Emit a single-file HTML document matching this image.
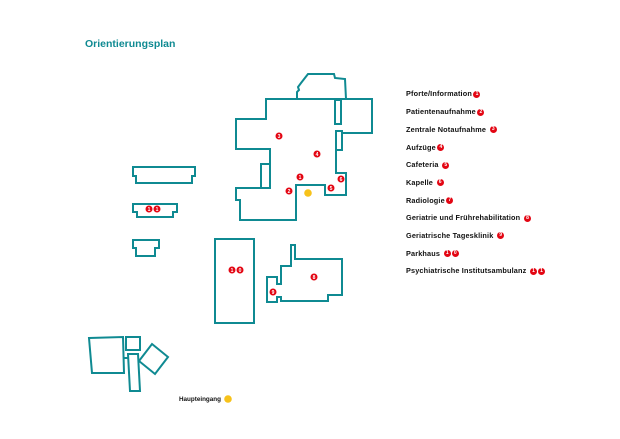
<!DOCTYPE html>
<html><head><meta charset="utf-8"><style>
html,body{margin:0;padding:0;background:#fff;}
svg{display:block}
.b{fill:none;stroke:#0f8a92;stroke-width:2;stroke-linejoin:miter}
.m circle{fill:#e30613}
.m text{font-family:"Liberation Sans",sans-serif;font-weight:bold;font-size:5px;fill:#fff;text-anchor:middle}
.lg{position:absolute;left:406px;height:8px;display:flex;align-items:center;font-family:"Liberation Sans",sans-serif;font-weight:bold;font-size:7.3px;letter-spacing:0.15px;color:#111;white-space:pre;line-height:8px}
.lg i{display:block;flex:none;width:7px;height:7px;border-radius:50%;background:#e30613;color:#fff;font-style:normal;font-size:5px;line-height:7px;text-align:center;letter-spacing:0;margin-left:1.5px}
.lg i+i{margin-left:1px}
</style></head><body>
<div style="position:relative;width:620px;height:439px">
<svg width="620" height="439" viewBox="0 0 620 439">
<text x="85" y="47" style="font-family:'Liberation Sans',sans-serif;font-weight:bold;font-size:10.5px;fill:#0f8a92">Orientierungsplan</text>

<polygon class="b" points="297,99 297,92 299,90 298,87 301,83 308,74 334,74 335,78 345,79 346,99"/>
<polygon class="b" points="266,99 372,99 372,133 342,133 342,150 336,150 336,173 346,173 346,195 325,195 325,185 296,185 296,220 240,220 240,200 236,200 236,188 270,188 270,149 236,149 236,119 266,119"/>
<rect class="b" x="261" y="164" width="9" height="24"/>
<rect class="b" x="335" y="100" width="6" height="24"/>
<rect class="b" x="336" y="131" width="6" height="19"/>

<polygon class="b" points="133,167 195,167 195,176 192,176 192,183 136,183 136,176 133,176"/>
<polygon class="b" points="133,204 177,204 177,212 173,212 173,217 137,217 137,212 133,212"/>
<polygon class="b" points="133,240 159,240 159,248 155,248 155,256 136,256 136,248 133,248"/>
<rect class="b" x="215" y="239" width="39" height="84"/>
<polygon class="b" points="267,277 277,277 277,284 281,284 281,266 291,266 291,245 295,245 295,259 342,259 342,295 328,295 328,301 281,301 281,297 277,297 277,302 267,302"/>

<polygon class="b" points="89,338 123,337 124,373 92,373"/>
<rect class="b" x="126" y="337" width="14" height="13"/>
<polygon class="b" points="128,354 138,354 140,391 130,391"/>
<line class="b" x1="124" y1="358" x2="128" y2="358"/>
<polygon class="b" points="152,344 168,357 155,374 139,361"/>

<g class="m">
<circle cx="279" cy="136" r="3.5"/><text x="279" y="138">3</text>
<circle cx="317" cy="154" r="3.5"/><text x="317" y="156">4</text>
<circle cx="300" cy="177" r="3.5"/><text x="300" y="179">1</text>
<circle cx="289" cy="191" r="3.5"/><text x="289" y="193">2</text>
<circle cx="331" cy="188" r="3.5"/><text x="331" y="190">5</text>
<circle cx="341" cy="179" r="3.5"/><text x="341" y="181">6</text>
<circle cx="149" cy="209" r="3.5"/><text x="149" y="211">1</text>
<circle cx="157" cy="209" r="3.5"/><text x="157" y="211">1</text>
<circle cx="232" cy="270" r="3.5"/><text x="232" y="272">1</text>
<circle cx="240" cy="270" r="3.5"/><text x="240" y="272">0</text>
<circle cx="314" cy="277" r="3.5"/><text x="314" y="279">8</text>
<circle cx="273" cy="292" r="3.5"/><text x="273" y="294">9</text>
</g>
<circle cx="308" cy="193" r="3.8" fill="#f7c21a"/>

<text x="179" y="401" style="font-family:'Liberation Sans',sans-serif;font-weight:bold;font-size:6.3px;fill:#111">Haupteingang</text>
<circle cx="228" cy="399" r="3.8" fill="#f7c21a"/>
</svg>
<div class="lg" style="top:90px">Pforte/Information<i>1</i></div>
<div class="lg" style="top:108px">Patientenaufnahme<i>2</i></div>
<div class="lg" style="top:125.5px">Zentrale Notaufnahme <i>3</i></div>
<div class="lg" style="top:143.5px">Aufzüge<i>4</i></div>
<div class="lg" style="top:161px">Cafeteria <i>5</i></div>
<div class="lg" style="top:178.5px">Kapelle <i>6</i></div>
<div class="lg" style="top:196.5px">Radiologie<i>7</i></div>
<div class="lg" style="top:214px">Geriatrie und Frührehabilitation <i>8</i></div>
<div class="lg" style="top:231.5px">Geriatrische Tagesklinik <i>9</i></div>
<div class="lg" style="top:249.5px">Parkhaus <i>1</i><i>0</i></div>
<div class="lg" style="top:267px">Psychiatrische Institutsambulanz <i>1</i><i>1</i></div>
</div>
</body></html>
